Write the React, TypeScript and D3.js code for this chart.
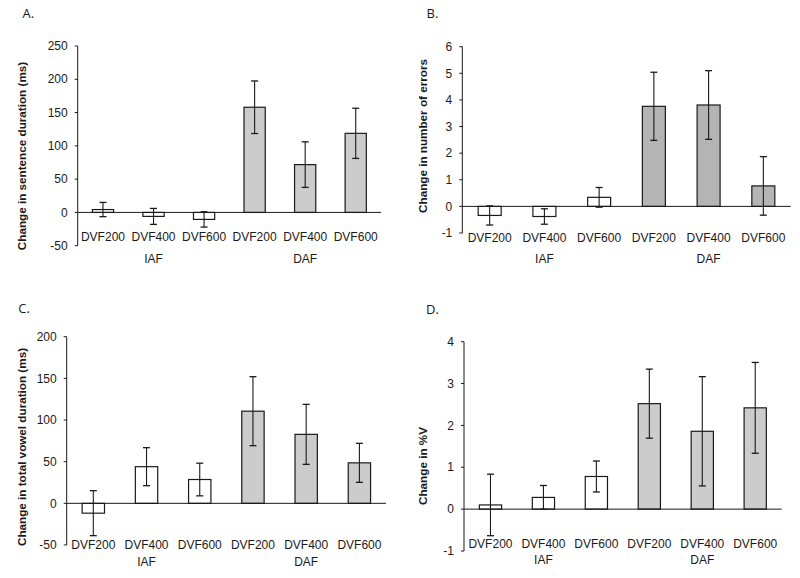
import React from "react";
import * as d3 from "d3";

// ---- data ----
const categories = ["DVF200", "DVF400", "DVF600", "DVF200", "DVF400", "DVF600"];
const groups = ["IAF", "DAF"];
const groupOf = [0, 0, 0, 1, 1, 1];

const sentenceMean = [4.3, -6, -10.5, 158, 71.8, 118.8];
const sentenceErr = [10.7, 12, 11.5, 39.5, 34.2, 37.7];
const sentenceTicks = [-50, 0, 50, 100, 150, 200, 250];

const errorsMean = [-0.34, -0.38, 0.34, 3.76, 3.81, 0.77];
const errorsErr = [0.36, 0.29, 0.37, 1.28, 1.29, 1.1];
const errorsTicks = [-1, 0, 1, 2, 3, 4, 5, 6];

const vowelMean = [-11.8, 44, 28.6, 110.6, 82.8, 48.6];
const vowelErr = [27, 22.8, 19.6, 41.4, 36, 23.4];
const vowelTicks = [-50, 0, 50, 100, 150, 200];

const pctVMean = [0.1, 0.28, 0.78, 2.52, 1.86, 2.42];
const pctVErr = [0.735, 0.285, 0.37, 0.825, 1.305, 1.085];
const pctVTicks = [-1, 0, 1, 2, 3, 4];

// ---- layout (positions/styles) ----
const panels = [
  {
    letter: "A.", lx: 22.5, ly: 18, ylabel: "Change in sentence duration (ms)",
    yLabX: 26, yLabY: 156,
    mean: sentenceMean, err: sentenceErr, ticks: sentenceTicks, domain: [-50, 250],
    x0: 77.7, x1: 381, yb: 245.7, yt: 46, catY: 240.5, grpY: 263, daf: "#cccccc",
  },
  {
    letter: "B.", lx: 426.5, ly: 18, ylabel: "Change in number of errors",
    yLabX: 427, yLabY: 136,
    mean: errorsMean, err: errorsErr, ticks: errorsTicks, domain: [-1, 6],
    x0: 462.3, x1: 790.7, yb: 233, yt: 46.7, catY: 241.5, grpY: 263.3, daf: "#b4b4b4",
  },
  {
    letter: "C.", lx: 18.3, ly: 313, ylabel: "Change in total vowel duration (ms)",
    yLabX: 26, yLabY: 447,
    mean: vowelMean, err: vowelErr, ticks: vowelTicks, domain: [-50, 200],
    x0: 66.7, x1: 386, yb: 545, yt: 336.7, catY: 549.3, grpY: 566, daf: "#cccccc",
  },
  {
    letter: "D.", lx: 426, ly: 314, ylabel: "Change in %V",
    yLabX: 427, yLabY: 466,
    mean: pctVMean, err: pctVErr, ticks: pctVTicks, domain: [-1, 4],
    x0: 464, x1: 781.7, yb: 551, yt: 341.7, catY: 548.3, grpY: 564, daf: "#cccccc",
  },
];

const FONT = "'Liberation Sans', Arial, sans-serif";
const INK = "#1a1a1a";

function Panel({ p }: { p: any }) {
  const x = d3
    .scaleBand<number>()
    .domain(d3.range(categories.length))
    .range([p.x0, p.x1])
    .paddingInner(0.58)
    .paddingOuter(0.29);
  const y = d3.scaleLinear().domain(p.domain).range([p.yb, p.yt]);
  const bw = x.bandwidth();
  const y0 = y(0);
  const cap = 3.5;

  return (
    <g>
      <text x={p.lx} y={p.ly} fontFamily="'Open Sans', 'Noto Sans', sans-serif" fontSize={13} fill={INK}>
        {p.letter}
      </text>
      <text
        transform={`translate(${p.yLabX},${p.yLabY}) rotate(-90)`}
        textAnchor="middle"
        fontFamily={FONT}
        fontWeight="bold"
        fontSize={11.7}
        fill={INK}
      >
        {p.ylabel}
      </text>
      {/* y axis */}
      <line x1={p.x0} x2={p.x0} y1={y(p.domain[0])} y2={y(p.domain[1])} stroke={INK} strokeWidth={1} />
      {p.ticks.map((t: number) => (
        <g key={t}>
          <line x1={p.x0 - 3} x2={p.x0} y1={y(t)} y2={y(t)} stroke={INK} strokeWidth={1} />
          <text x={p.x0 - 10} y={y(t)} dy="0.35em" textAnchor="end" fontFamily={FONT} fontSize={12} fill={INK}>
            {t}
          </text>
        </g>
      ))}
      {/* bars */}
      {p.mean.map((m: number, i: number) => {
        const bx = x(i)!;
        const top = Math.min(y(m), y0);
        const h = Math.abs(y(m) - y0);
        const cx = bx + bw / 2;
        const eTop = y(m + p.err[i]);
        const eBot = y(m - p.err[i]);
        return (
          <g key={i}>
            <rect x={bx} y={top} width={bw} height={h} fill={groupOf[i] === 0 ? "#ffffff" : p.daf} stroke={INK} strokeWidth={1.2} />
            <line x1={cx} x2={cx} y1={eTop} y2={eBot} stroke={INK} strokeWidth={1.1} />
            <line x1={cx - cap} x2={cx + cap} y1={eTop} y2={eTop} stroke={INK} strokeWidth={1.3} />
            <line x1={cx - cap} x2={cx + cap} y1={eBot} y2={eBot} stroke={INK} strokeWidth={1.3} />
          </g>
        );
      })}
      {/* x axis at zero */}
      <line x1={p.x0} x2={p.x1} y1={y0} y2={y0} stroke={INK} strokeWidth={1} />
      {categories.map((c, i) => (
        <text key={i} x={x(i)! + bw / 2} y={p.catY} textAnchor="middle" fontFamily={FONT} fontSize={12} fill={INK}>
          {c}
        </text>
      ))}
      {groups.map((g, gi) => {
        const mid = gi * 3 + 1;
        return (
          <text key={g} x={x(mid)! + bw / 2} y={p.grpY} textAnchor="middle" fontFamily={FONT} fontSize={12} fill={INK}>
            {g}
          </text>
        );
      })}
    </g>
  );
}

export default function App() {
  return (
    <svg
      width={800}
      height={578}
      viewBox="0 0 800 578"
      style={{ position: "absolute", left: 0, top: 0, background: "#ffffff" }}
    >
      <rect x={0} y={0} width={800} height={578} fill="#ffffff" />
      {panels.map((p, i) => (
        <Panel key={i} p={p} />
      ))}
    </svg>
  );
}
